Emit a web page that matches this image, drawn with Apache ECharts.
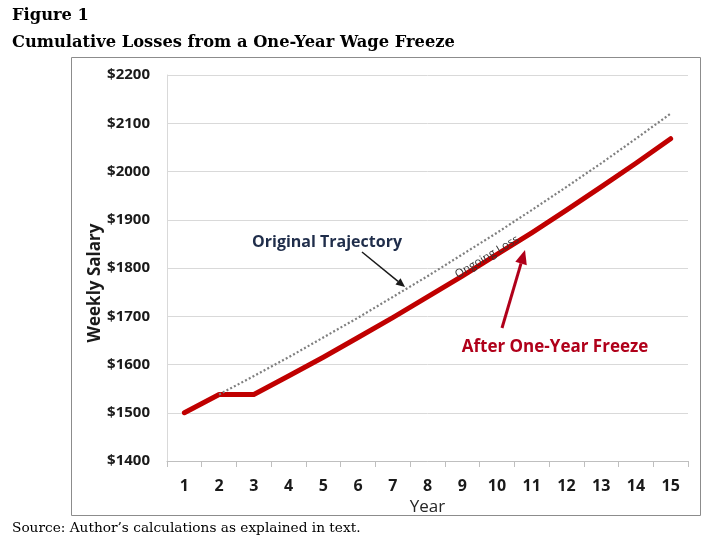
<!DOCTYPE html>
<html><head><meta charset="utf-8">
<script src="https://cdn.jsdelivr.net/npm/echarts@6/dist/echarts.min.js"></script>
<style>html,body{margin:0;padding:0;background:#fff}#c{width:719px;height:547px}</style>
</head><body><div id="c"></div>
<script>
const years = ['1','2','3','4','5','6','7','8','9','10','11','12','13','14','15'];
const originalTrajectory = [null,1538,1576,1615,1656,1697,1740,1783,1828,1873,1920,1968,2017,2068,2120];
const afterFreeze = [1500,1538,1538,1576,1615,1656,1697,1740,1783,1828,1873,1920,1968,2017,2068];
const yTicks = {min:1400, max:2200, interval:100};

const chart = echarts.init(document.getElementById('c'));
const sans = '"Open Sans", "Noto Sans", sans-serif';
const serif = '"DejaVu Serif", "Liberation Serif", serif';

function arrow(x1,y1,x2,y2,color,w,hl,hw){
  const dx=x2-x1, dy=y2-y1, L=Math.sqrt(dx*dx+dy*dy), ux=dx/L, uy=dy/L;
  const bx=x2-ux*hl, by=y2-uy*hl, px=-uy, py=ux;
  return [
    {type:'line', shape:{x1:x1,y1:y1,x2:bx,y2:by}, style:{stroke:color,lineWidth:w}, z:50},
    {type:'polygon', shape:{points:[[x2,y2],[bx+px*hw,by+py*hw],[bx-px*hw,by-py*hw]]}, style:{fill:color}, z:50}
  ];
}

chart.setOption({
  animation:false,
  grid:{left:167, right:31, top:75, bottom:86},
  xAxis:{
    type:'category', data:years, boundaryGap:true,
    name:'Year', nameLocation:'middle', nameGap:38,
    nameTextStyle:{fontFamily:sans, fontSize:17, color:'#262626'},
    axisLine:{lineStyle:{color:'#bfbfbf'}},
    axisTick:{show:true, length:6, lineStyle:{color:'#bfbfbf'}},
    axisLabel:{fontFamily:sans, fontWeight:'bold', fontSize:16, color:'#1a1a1a', margin:17}
  },
  yAxis:{
    type:'value', min:yTicks.min, max:yTicks.max, interval:yTicks.interval,
    axisLine:{show:true, lineStyle:{color:'#d9d9d9'}},
    axisTick:{show:false},
    splitLine:{lineStyle:{color:'#d9d9d9'}},
    axisLabel:{fontFamily:sans, fontWeight:'bold', fontSize:15, color:'#1a1a1a', margin:17, formatter:v=>'$'+v}
  },
  series:[
    {type:'line', name:'Original Trajectory', data:originalTrajectory, symbol:'none', smooth:false,
     lineStyle:{color:'#7f7f7f', width:2.2, type:[2,2.2]}, z:3},
    {type:'line', name:'After One-Year Freeze', data:afterFreeze, symbol:'none', smooth:false,
     lineStyle:{color:'#c00000', width:5, cap:'round', join:'round'}, z:2}
  ],
  graphic:[
    {type:'rect', shape:{x:71.5,y:57.5,width:629,height:458}, style:{fill:null, stroke:'#8c8c8c', lineWidth:1}, z:1},
    {type:'text', left:12, top:8, style:{text:'Figure 1', font:'bold 16.3px '+serif, fill:'#000'}},
    {type:'text', left:12, top:35, style:{text:'Cumulative Losses from a One-Year Wage Freeze', font:'bold 16.3px '+serif, fill:'#000'}},
    {type:'text', left:12, top:521, style:{text:'Source: Author\u2019s calculations as explained in text.', font:'13.7px '+serif, fill:'#000'}},
    {type:'text', x:95, y:283, rotation:Math.PI/2, style:{text:'Weekly Salary', font:'bold 17px '+sans, fill:'#1a1a1a', align:'center', verticalAlign:'middle'}, z:50},
    {type:'text', x:327, y:242, style:{text:'Original Trajectory', font:'bold 16px '+sans, fill:'#1f2d4a', align:'center', verticalAlign:'middle'}, z:50},
    {type:'text', x:555, y:347, style:{text:'After One-Year Freeze', font:'bold 17px '+sans, fill:'#b0001a', align:'center', verticalAlign:'middle'}, z:50},
    {type:'text', x:487, y:257, rotation:31*Math.PI/180, style:{text:'Ongoing Loss', font:'11.5px '+sans, fill:'#333', align:'center', verticalAlign:'middle'}, z:50},
    ...arrow(362,252,405,287,'#1a1a1a',1.5,9,4),
    ...arrow(502,328,525,250,'#b0001a',3,14,6)
  ]
});
</script></body></html>
